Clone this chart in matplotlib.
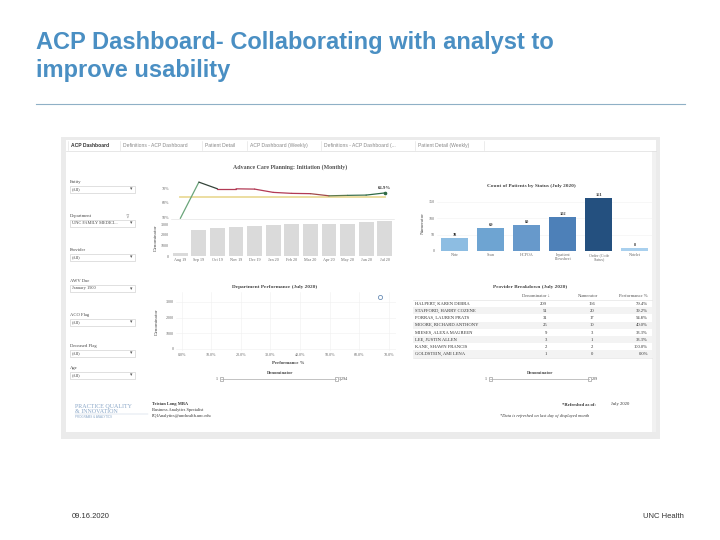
import matplotlib
matplotlib.use('Agg')
import matplotlib.pyplot as plt
from matplotlib.patches import Rectangle

# --- data ---
months = ['Aug 19', 'Sep 19', 'Oct 19', 'Nov 19', 'Dec 19', 'Jan 20',
          'Feb 20', 'Mar 20', 'Apr 20', 'May 20', 'Jun 20', 'Jul 20']
perf_pct = [49.0, 74.5, 69.8, 69.8, 69.6, 67.3, 66.6, 66.4, 64.9, 65.2, 65.4, 66.9]
target_pct = 64.0
denominators = [320, 2500, 2620, 2740, 2830, 2960, 3060, 3060, 3060, 3060, 3210, 3294]

status_names = ['Note', 'Scan', 'HCPOA', 'Inpatient\nFlowsheet', 'Order (Code\nStatus)', 'Notelet']
status_counts = [38, 69, 80, 102, 161, 8]

dept_perf = [66.9]
dept_denom = [3294]

providers = ['HALPERT, KAREN DEBRA', 'STAFFORD, HARRY COZENE', 'PORRAS, LAUREN PRATS',
             'MOORE, RICHARD ANTHONY', 'MIESES, ALEXA MAUREEN', 'LEE, JUSTIN ALLEN',
             'KANE, SHAWN FRANCIS', 'GOLDSTEIN, AMI LENA']
prov_denom = [209, 51, 31, 25, 9, 3, 2, 1]
prov_num = [166, 20, 17, 10, 3, 1, 2, 0]
prov_perf = ['79.4%', '39.2%', '54.8%', '40.0%', '33.3%', '33.3%', '100.0%', '0.0%']

tabs = ['ACP Dashboard', 'Definitions - ACP Dashboard', 'Patient Detail',
        'ACP Dashboard (Weekly)', 'Definitions - ACP Dashboard (...', 'Patient Detail (Weekly)']
filters = [('Entity', '(All)'), ('Department', 'UNC FAMILY MEDICI...'), ('Provider', '(All)'),
           ('AWV Due', 'January 1900'), ('ACO Flag', '(All)'), ('Deceased Flag', '(All)'),
           ('Age', '(All)')]

# --- styles ---
W, H = 720, 540
SERIF = 'Liberation Serif'
SANS = 'Liberation Sans'
GREY = '#666666'
seg_colors = ['#6aa57a', '#34443a', '#b23a55', '#b23a55', '#b23a55', '#b23a55',
              '#b23a55', '#a04a4a', '#5e7a4e', '#3f7350', '#2f6a45']
bar_blues = ['#8dbde2', '#6ea4d2', '#6799cb', '#4d80b8', '#24507f', '#a9d0ee']

fig = plt.figure(figsize=(7.2, 5.4), dpi=100)
bg = fig.add_axes([0, 0, 1, 1])
bg.set_xlim(0, W)
bg.set_ylim(H, 0)
bg.axis('off')


def px_axes(x0, y0, x1, y1):
    return fig.add_axes([x0 / W, 1 - y1 / H, (x1 - x0) / W, (y1 - y0) / H])


def style(ax):
    for s in ax.spines.values():
        s.set_visible(False)
    ax.tick_params(length=0, pad=1.5, labelsize=3, labelcolor=GREY)
    for lab in ax.get_xticklabels() + ax.get_yticklabels():
        lab.set_family(SERIF)
    ax.set_facecolor('none')


# slide title
bg.text(36, 43, 'ACP Dashboard- Collaborating with analyst to', fontsize=17,
        color='#4a8fc3', fontweight='bold', family=SANS, va='center')
bg.text(36, 71, 'improve usability', fontsize=17,
        color='#4a8fc3', fontweight='bold', family=SANS, va='center')
bg.plot([36, 685], [104, 104], color='#8fb0c6', lw=0.8)

# footer
bg.text(72, 516, '09.16.2020', fontsize=5.5, color='#333333', family=SANS, va='center')
bg.text(684, 516, 'UNC Health', fontsize=5.5, color='#333333', family=SANS,
        va='center', ha='right')

# dashboard frame
bg.add_patch(Rectangle((61, 137), 599, 302, fc='#ebebeb', ec='none'))
bg.add_patch(Rectangle((66, 140), 590, 292, fc='white', ec='none'))
bg.add_patch(Rectangle((652, 151), 4, 281, fc='#f1f1f1', ec='none'))
bg.plot([66, 656], [150.5, 150.5], color='#dddddd', lw=0.5)

# tabs
tab_x = [71, 123, 205, 250, 324, 418]
for i, (t, x) in enumerate(zip(tabs, tab_x)):
    bg.text(x, 145.5, t, fontsize=3.6, family=SANS, va='center',
            color='#333333' if i == 0 else '#888888',
            fontweight='bold' if i == 0 else 'normal')
    bg.plot([x - 3.5, x - 3.5], [141, 150], color='#dddddd', lw=0.4)
bg.plot([484, 484], [141, 150], color='#dddddd', lw=0.4)

bg.text(290, 167, 'Advance Care Planning: Initiation (Monthly)', fontsize=4.2,
        family=SERIF, color='#555555', ha='center', va='center', fontweight='bold')

# filters
filter_y = [182, 216, 250, 281.5, 315, 346, 368]
for (lab, val), y in zip(filters, filter_y):
    bg.text(70, y, lab, fontsize=3.3, family=SERIF, color='#444444', va='center')
    bg.add_patch(Rectangle((70, y + 3.5), 65, 7, fc='white', ec='#c9c9c9', lw=0.4))
    bg.text(72, y + 7, val, fontsize=3.2, family=SERIF, color='#444444', va='center')
    bg.text(131, y + 7, '▾', fontsize=3.5, family='DejaVu Sans', color='#555555',
            va='center', ha='center')
bg.text(125, 216, '⊽', fontsize=3.5, family='DejaVu Sans', color='#999999', va='center')

# monthly line chart
x = list(range(len(months)))
ax1 = px_axes(171, 178, 394, 219)
for i in range(len(months) - 1):
    ax1.plot(x[i:i + 2], perf_pct[i:i + 2], color=seg_colors[i], lw=0.9,
             solid_capstyle='round')
ax1.plot([x[0], x[-1]], [target_pct, target_pct], color='#eadb9a', lw=1.3, zorder=1)
ax1.plot(x[-1], perf_pct[-1], 'o', ms=1.6, color='#2f6a45')
ax1.annotate(f'{perf_pct[-1]}%', (x[-1], perf_pct[-1]), xytext=(0, 2),
             textcoords='offset points', ha='center', va='bottom', fontsize=3.4,
             family=SERIF, fontweight='bold', color='#333333')
ax1.set_xlim(-0.5, 11.5)
ax1.set_ylim(48.6, 77.4)
ax1.set_yticks([50, 60, 70])
ax1.set_yticklabels(['50%', '60%', '70%'])
ax1.set_xticks([])
style(ax1)
ax1.spines['bottom'].set_visible(True)
ax1.spines['bottom'].set_color('#dddddd')
ax1.spines['bottom'].set_linewidth(0.4)

# denominator bars
ax2 = px_axes(171, 219, 394, 256)
ax2.bar(x, denominators, width=0.8, color='#dadada')
ax2.set_xlim(-0.5, 11.5)
ax2.set_ylim(0, 3500)
ax2.set_yticks([0, 1000, 2000, 3000])
ax2.set_xticks(x)
ax2.set_xticklabels(months)
style(ax2)
ax2.set_ylabel('Denominator', fontsize=3.6, family=SERIF, color='#444444', labelpad=2)

# count of patients by status
ax3 = px_axes(437, 195, 653, 251)
xs = list(range(len(status_names)))
ax3.bar(xs, status_counts, width=0.75, color=bar_blues)
for xi, v in zip(xs, status_counts):
    ax3.text(xi, v + 3, str(v), ha='center', va='bottom', fontsize=3.2,
             family=SERIF, color='#333333', fontweight='bold')
ax3.set_xlim(-0.5, 5.5)
ax3.set_ylim(0, 170)
ax3.set_yticks([0, 50, 100, 150])
ax3.set_xticks(xs)
ax3.set_xticklabels(status_names, linespacing=0.9)
ax3.grid(axis='y', color='#f2f2f2', lw=0.4)
ax3.set_axisbelow(True)
style(ax3)
ax3.set_ylabel('Numerator', fontsize=3.6, family=SERIF, color='#444444', labelpad=3)
bg.text(531, 186, 'Count of Patients by Status (July 2020)', fontsize=3.8, family=SERIF,
        color='#444444', ha='center', va='center', fontweight='bold')

# department performance scatter
ax4 = px_axes(176, 292, 396, 351)
ax4.plot(dept_perf, dept_denom, 'o', ms=3, mfc='white', mec='#6a8db5', mew=0.6)
ax4.set_xlim(-1.9, 72.4)
ax4.set_ylim(-128, 3637)
ax4.set_xticks(range(0, 80, 10))
ax4.set_xticklabels([f'{v:.1f}%' for v in range(0, 80, 10)])
ax4.set_yticks([0, 1000, 2000, 3000])
ax4.grid(color='#f0f0f0', lw=0.4)
ax4.set_axisbelow(True)
style(ax4)
ax4.set_ylabel('Denominator', fontsize=3.6, family=SERIF, color='#444444', labelpad=5)
bg.text(275, 287, 'Department Performance (July 2020)', fontsize=3.8, family=SERIF,
        color='#444444', ha='center', va='center', fontweight='bold')
bg.text(288, 362.5, 'Performance %', fontsize=3.4, family=SERIF, color='#444444',
        ha='center', va='center', fontweight='bold')

# sliders
for cx, x0, x1, lo, hi in [(280, 221, 336, '1', '3,294'), (540, 490, 589, '1', '209')]:
    bg.text(cx, 373, 'Denominator', fontsize=3.3, family=SERIF, color='#444444',
            ha='center', va='center', fontweight='bold')
    bg.plot([x0, x1], [379, 379], color='#aaaaaa', lw=0.5)
    bg.add_patch(Rectangle((x0 - 1.5, 377), 3, 4, fc='white', ec='#888888', lw=0.4))
    bg.add_patch(Rectangle((x1 - 1.5, 377), 3, 4, fc='white', ec='#888888', lw=0.4))
    bg.text(x0 - 3, 379, lo, fontsize=3, family=SERIF, color='#444444', ha='right', va='center')
    bg.text(x1 + 3, 379, hi, fontsize=3, family=SERIF, color='#444444', ha='left', va='center')

# provider breakdown table
bg.text(530, 287, 'Provider Breakdown (July 2020)', fontsize=3.8, family=SERIF,
        color='#444444', ha='center', va='center', fontweight='bold')
bg.text(550, 296, 'Denominator ↓', fontsize=3.3, family=[SERIF, 'DejaVu Sans'],
        color='#555555', ha='right', va='center')
bg.text(598, 296, 'Numerator', fontsize=3.3, family=SERIF, color='#555555',
        ha='right', va='center')
bg.text(648, 296, 'Performance %', fontsize=3.3, family=SERIF, color='#555555',
        ha='right', va='center')
bg.plot([413, 652], [299.5, 299.5], color='#dddddd', lw=0.4)
for i, name in enumerate(providers):
    y = 303.7 + i * 7.2
    if i % 2 == 1:
        bg.add_patch(Rectangle((413, y - 3.6), 239, 7.2, fc='#f3f3f3', ec='none'))
    bg.text(415, y, name, fontsize=3.3, family=SERIF, color='#333333', va='center')
    bg.text(547, y, str(prov_denom[i]), fontsize=3.3, family=SERIF, color='#333333',
            ha='right', va='center')
    bg.text(592, y, str(prov_num[i]), fontsize=3.3, family=SERIF, color='#333333',
            ha='center', va='center')
    bg.text(648, y, prov_perf[i], fontsize=3.3, family=SERIF, color='#333333',
            ha='right', va='center')
bg.plot([413, 652], [357.5, 357.5], color='#dddddd', lw=0.4)

# logo and contact
bg.text(75, 406.5, 'PRACTICE QUALITY', fontsize=4.3, family=SERIF, color='#8aa7c8', va='center')
bg.text(75, 411.5, '& INNOVATION', fontsize=4.3, family=SERIF, color='#8aa7c8', va='center')
bg.plot([75, 148], [414, 414], color='#b7c8da', lw=0.3)
bg.text(75, 416.5, 'PROGRAMS & ANALYTICS', fontsize=2.2, family=SANS, color='#8aa7c8', va='center')
bg.text(152, 404.5, 'Tristan Long MBA', fontsize=3.2, family=SERIF, color='#333333',
        va='center', fontweight='bold')
bg.text(152, 410.5, 'Business Analytics Specialist', fontsize=3.2, family=SERIF,
        color='#333333', va='center')
bg.text(152, 416.5, 'PQIAnalytics@unchealth.unc.edu', fontsize=3.2, family=SERIF,
        color='#333333', va='center')
bg.text(596, 404.5, '*Refreshed as of:', fontsize=3.3, family=SERIF, color='#333333',
        ha='right', va='center', fontweight='bold')
bg.text(611, 404.5, 'July 2020', fontsize=3.3, family=SERIF, color='#333333', va='center')
bg.text(500, 416, '*Data is refreshed on last day of displayed month', fontsize=3.2,
        family=SERIF, color='#333333', va='center', style='italic')

fig.savefig('out.png', dpi=100)
